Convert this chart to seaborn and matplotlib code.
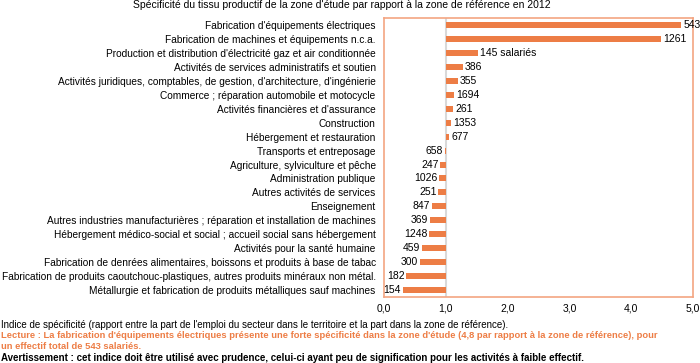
import numpy as np
import pandas as pd
import matplotlib
matplotlib.use("Agg")
import matplotlib.pyplot as plt
import seaborn as sns

secteurs = [
    "Fabrication d'équipements électriques",
    "Fabrication de machines et équipements n.c.a.",
    "Production et distribution d'électricité gaz et air conditionnée",
    "Activités de services administratifs et soutien",
    "Activités juridiques, comptables, de gestion, d'architecture, d'ingénierie",
    "Commerce ; réparation automobile et motocycle",
    "Activités financières et d'assurance",
    "Construction",
    "Hébergement et restauration",
    "Transports et entreposage",
    "Agriculture, sylviculture et pêche",
    "Administration publique",
    "Autres activités de services",
    "Enseignement",
    "Autres industries manufacturières ; réparation et installation de machines",
    "Hébergement médico-social et social ; accueil social sans hébergement",
    "Activités pour la santé humaine",
    "Fabrication de denrées alimentaires, boissons et produits à base de tabac",
    "Fabrication de produits caoutchouc-plastiques, autres produits minéraux non métal.",
    "Métallurgie et fabrication de produits métalliques sauf machines",
]
indice = [4.80, 4.48, 1.52, 1.27, 1.19, 1.13, 1.11, 1.08, 1.05, 0.99,
          0.91, 0.89, 0.88, 0.78, 0.75, 0.73, 0.61, 0.58, 0.36, 0.30]
effectif = ["543", "1261", "145 salariés", "386", "355", "1694", "261", "1353", "677", "658",
            "247", "1026", "251", "847", "369", "1248", "459", "300", "182", "154"]

df = pd.DataFrame({"secteur": secteurs, "indice": indice, "effectif": effectif})
df["ecart"] = df["indice"] - 1.0

plt.rcParams["font.family"] = ["Liberation Sans", "DejaVu Sans"]
orange = "#ED7D45"

fig = plt.figure(figsize=(7, 3.63), dpi=100)
ax = fig.add_axes([0.5486, 0.182, 0.4414, 0.768])

ax.axvline(1.0, color="#D9D9D9", lw=1.5, zorder=1)
sns.barplot(data=df, x="ecart", y="secteur", color=orange, width=0.43,
            saturation=1, ax=ax, zorder=2)
# shift bars so they start from the reference value 1.0
for p in ax.patches:
    p.set_x(p.get_x() + 1.0)

for i, (v, lab) in enumerate(zip(indice, effectif)):
    if v >= 1.0:
        ax.text(v + 0.04, i, lab, va="center", ha="left", fontsize=7.5)
    else:
        ax.text(v - 0.03, i, lab, va="center", ha="right", fontsize=7.5)

ax.set_xlim(0, 5)
ax.set_ylim(19.5, -0.5)
ax.set_xticks([0, 1, 2, 3, 4, 5])
ax.set_xticklabels(["0,0", "1,0", "2,0", "3,0", "4,0", "5,0"], fontsize=7.5)
ax.tick_params(axis="y", labelsize=7.3, length=0, pad=6)
ax.tick_params(axis="x", length=0, pad=5)
ax.set_xlabel("")
ax.set_ylabel("")
for s in ax.spines.values():
    s.set_color("#F4A582")
    s.set_linewidth(1.2)

fig.text(0.488, 0.985, "Spécificité du tissu productif de la zone d'étude par rapport à la zone de référence en 2012",
         ha="center", va="center", fontsize=7.45)
fig.text(0.002, 0.105, "Indice de spécificité (rapport entre la part de l'emploi du secteur dans le territoire et la part dans la zone de référence).",
         ha="left", va="center", fontsize=7.05)
fig.text(0.002, 0.075, "Lecture : La fabrication d'équipements électriques présente une forte spécificité dans la zone d'étude (4,8 par rapport à la zone de référence), pour",
         ha="left", va="center", fontsize=6.75, color=orange, fontweight="bold")
fig.text(0.002, 0.045, "un effectif total de 543 salariés.",
         ha="left", va="center", fontsize=6.75, color=orange, fontweight="bold")
fig.text(0.002, 0.014, "Avertissement : cet indice doit être utilisé avec prudence, celui-ci ayant peu de signification pour les activités à faible effectif.",
         ha="left", va="center", fontsize=7.05, fontweight="bold")

fig.savefig("out.png", dpi=100)
